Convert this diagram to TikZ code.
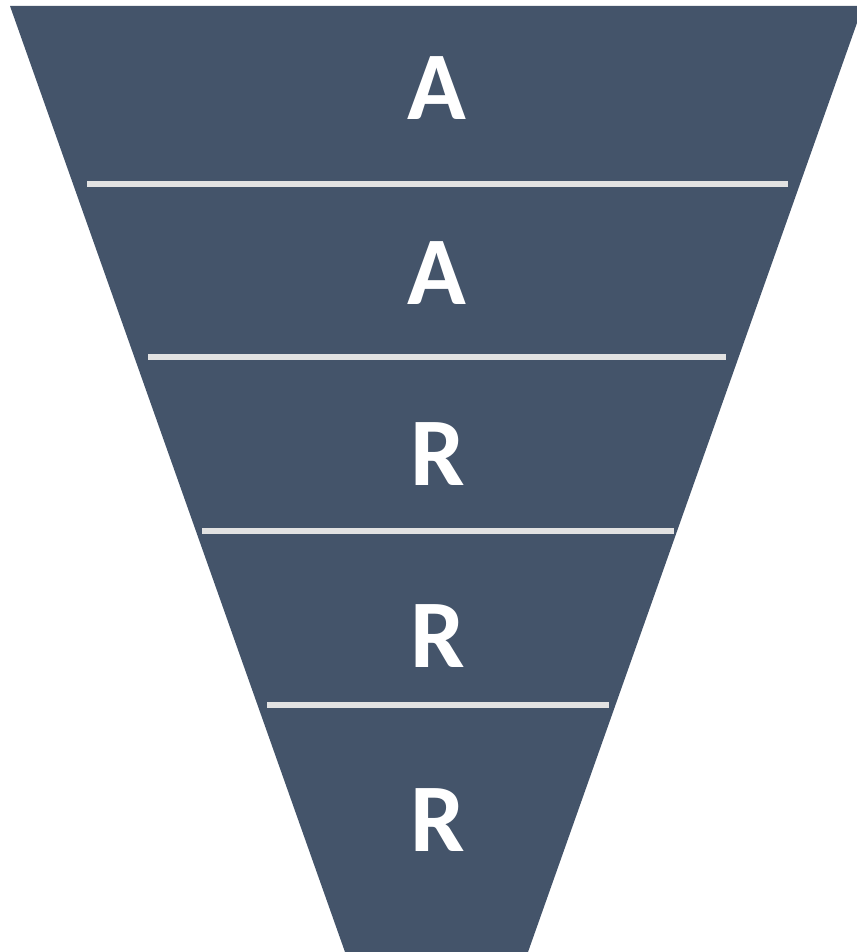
\documentclass[tikz,border=0pt]{standalone}
\usepackage{fontspec}
\setmainfont{Carlito}
\definecolor{funnel}{HTML}{44546A}
\definecolor{sep}{HTML}{E2E2E2}
\tikzset{
  lbl/.style={text=white, font=\fontsize{97}{97}\selectfont\bfseries, anchor=base, inner sep=0pt},
  sepline/.style={draw=sep, line width=5.5pt}
}
\begin{document}
\begin{tikzpicture}[x=1pt,y=-1pt]
\useasboundingbox (0,0) rectangle (856,952);
\fill[funnel] (10,6) -- (863,6) -- (528,952) -- (345,952) -- cycle;
\coordinate (l1) at (87,184);  \coordinate (r1) at (788,184);
\coordinate (l2) at (148,357); \coordinate (r2) at (726,357);
\coordinate (l3) at (202,531); \coordinate (r3) at (674,531);
\coordinate (l4) at (267,705); \coordinate (r4) at (609,705);
\draw[sepline] (l1) -- (r1);
\draw[sepline] (l2) -- (r2);
\draw[sepline] (l3) -- (r3);
\draw[sepline] (l4) -- (r4);
\node[lbl] (t1) at (437,120) {A};
\node[lbl] (t2) at (437,304) {A};
\node[lbl] (t3) at (438,485) {R};
\node[lbl] (t4) at (438,667) {R};
\node[lbl] (t5) at (438,851) {R};
\end{tikzpicture}
\end{document}
